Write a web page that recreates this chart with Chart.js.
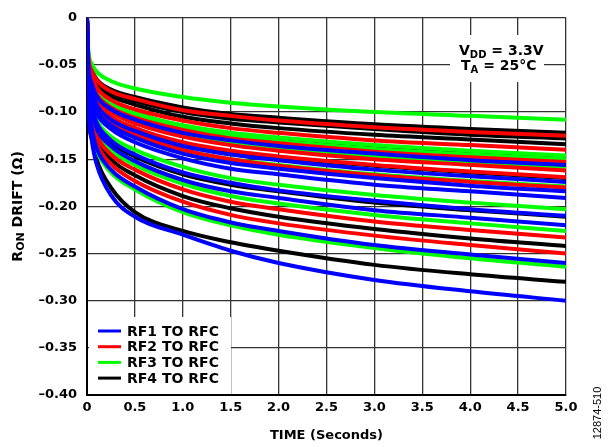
<!DOCTYPE html>
<html>
<head>
<meta charset="utf-8">
<script src="https://cdn.jsdelivr.net/npm/chart.js"></script>
<style>
  html, body { margin: 0; padding: 0; background: #fff; }
  #wrap { width: 609px; height: 447px; position: relative; }
</style>
</head>
<body>
<div id="wrap"><canvas id="chart" width="609" height="447"></canvas></div>
<script>
// time axis samples (seconds)
const timeS = [0, 0.01, 0.05, 0.1, 0.25, 0.5, 1, 1.5, 2, 3, 4, 5];

// Ron drift (ohm), one row per measured part
const rf1Drift = [
  [0, -0.044, -0.070, -0.083, -0.097, -0.108, -0.122, -0.130, -0.136, -0.144, -0.151, -0.156],
  [0, -0.049, -0.078, -0.092, -0.108, -0.120, -0.136, -0.145, -0.151, -0.161, -0.168, -0.174],
  [0, -0.052, -0.083, -0.098, -0.114, -0.127, -0.144, -0.154, -0.160, -0.170, -0.178, -0.184],
  [0, -0.053, -0.086, -0.101, -0.118, -0.132, -0.149, -0.160, -0.166, -0.177, -0.184, -0.191],
  [0, -0.059, -0.095, -0.111, -0.130, -0.145, -0.164, -0.175, -0.183, -0.194, -0.203, -0.210],
  [0, -0.062, -0.099, -0.117, -0.136, -0.152, -0.172, -0.184, -0.191, -0.204, -0.212, -0.220],
  [0, -0.073, -0.117, -0.138, -0.161, -0.179, -0.203, -0.217, -0.226, -0.241, -0.251, -0.260],
  [0, -0.080, -0.130, -0.155, -0.188, -0.211, -0.230, -0.247, -0.260, -0.278, -0.290, -0.300]
];
const rf2Drift = [
  [0, -0.035, -0.056, -0.066, -0.078, -0.086, -0.098, -0.104, -0.109, -0.116, -0.121, -0.125],
  [0, -0.039, -0.063, -0.074, -0.087, -0.097, -0.109, -0.117, -0.122, -0.130, -0.135, -0.140],
  [0, -0.043, -0.069, -0.081, -0.095, -0.106, -0.119, -0.128, -0.133, -0.142, -0.148, -0.153],
  [0, -0.045, -0.073, -0.086, -0.100, -0.112, -0.126, -0.135, -0.141, -0.150, -0.156, -0.162],
  [0, -0.047, -0.076, -0.090, -0.105, -0.117, -0.132, -0.141, -0.147, -0.156, -0.163, -0.169],
  [0, -0.050, -0.081, -0.095, -0.112, -0.124, -0.140, -0.150, -0.157, -0.167, -0.174, -0.180],
  [0, -0.065, -0.105, -0.124, -0.145, -0.161, -0.182, -0.195, -0.203, -0.216, -0.225, -0.233],
  [0, -0.070, -0.113, -0.133, -0.155, -0.173, -0.195, -0.209, -0.218, -0.231, -0.241, -0.250]
];
const rf3Drift = [
  [0, -0.030, -0.049, -0.057, -0.067, -0.075, -0.084, -0.090, -0.094, -0.100, -0.104, -0.108],
  [0, -0.041, -0.066, -0.077, -0.091, -0.101, -0.114, -0.122, -0.127, -0.135, -0.141, -0.146],
  [0, -0.042, -0.068, -0.080, -0.093, -0.104, -0.117, -0.125, -0.131, -0.139, -0.145, -0.150],
  [0, -0.045, -0.072, -0.084, -0.099, -0.110, -0.124, -0.133, -0.138, -0.147, -0.153, -0.159],
  [0, -0.050, -0.081, -0.095, -0.111, -0.124, -0.140, -0.150, -0.156, -0.166, -0.173, -0.179],
  [0, -0.057, -0.091, -0.108, -0.126, -0.140, -0.158, -0.170, -0.177, -0.188, -0.196, -0.203],
  [0, -0.063, -0.102, -0.120, -0.140, -0.156, -0.176, -0.189, -0.197, -0.209, -0.218, -0.226],
  [0, -0.074, -0.119, -0.140, -0.164, -0.182, -0.206, -0.220, -0.230, -0.244, -0.255, -0.264]
];
const rf4Drift = [
  [0, -0.034, -0.055, -0.065, -0.076, -0.084, -0.095, -0.102, -0.106, -0.113, -0.118, -0.122],
  [0, -0.036, -0.058, -0.068, -0.079, -0.088, -0.100, -0.107, -0.111, -0.118, -0.124, -0.128],
  [0, -0.038, -0.060, -0.071, -0.083, -0.092, -0.105, -0.112, -0.117, -0.124, -0.129, -0.134],
  [0, -0.041, -0.066, -0.078, -0.091, -0.101, -0.115, -0.123, -0.128, -0.136, -0.142, -0.147],
  [0, -0.048, -0.077, -0.090, -0.105, -0.117, -0.133, -0.142, -0.148, -0.157, -0.164, -0.170],
  [0, -0.061, -0.097, -0.113, -0.132, -0.147, -0.166, -0.177, -0.184, -0.196, -0.204, -0.211],
  [0, -0.068, -0.109, -0.128, -0.150, -0.167, -0.189, -0.202, -0.211, -0.224, -0.234, -0.242],
  [0, -0.080, -0.128, -0.150, -0.180, -0.206, -0.226, -0.238, -0.247, -0.262, -0.272, -0.280]
];

const seriesNames = ["RF1 TO RFC", "RF2 TO RFC", "RF3 TO RFC", "RF4 TO RFC"];
const seriesColors = ["#0000ff", "#ff0000", "#00ff00", "#000000"];

const xTicks = [0, 0.5, 1, 1.5, 2, 2.5, 3, 3.5, 4, 4.5, 5];
const xTickLabels = ["0", "0.5", "1.0", "1.5", "2.0", "2.5", "3.0", "3.5", "4.0", "4.5", "5.0"];
const yTicks = [0, -0.05, -0.10, -0.15, -0.20, -0.25, -0.30, -0.35, -0.40];
const yTickLabels = ["0", "–0.05", "–0.10", "–0.15", "–0.20", "–0.25", "–0.30", "–0.35", "–0.40"];

const FONT = "'DejaVu Sans', Arial, sans-serif";

// build datasets
const groups = [rf1Drift, rf2Drift, rf3Drift, rf4Drift];
const datasets = [];
groups.forEach((curves, g) => {
  curves.forEach(c => {
    datasets.push({
      label: seriesNames[g],
      data: timeS.map((t, i) => ({ x: t, y: c[i] })),
      borderColor: seriesColors[g],
      borderWidth: 4,
      pointRadius: 0,
      fill: false,
      cubicInterpolationMode: "monotone"
    });
  });
});

// extra drawing: legend box, conditions note, y title with subscript, figure code
const decor = {
  id: "decor",
  afterDraw(chart) {
    const ctx = chart.ctx;
    const a = chart.chartArea;
    ctx.save();

    // legend inside plot, bottom-left
    ctx.fillStyle = "#fff";
    ctx.fillRect(a.left + 2, 317, 142, a.bottom - 318);
    ctx.font = "bold 14px " + FONT;
    ctx.textBaseline = "middle";
    ctx.textAlign = "left";
    seriesNames.forEach((n, i) => {
      const y = 331 + i * 15.7;
      ctx.strokeStyle = seriesColors[i];
      ctx.lineWidth = 3;
      ctx.beginPath();
      ctx.moveTo(98, y);
      ctx.lineTo(121, y);
      ctx.stroke();
      ctx.fillStyle = "#000";
      ctx.fillText(n, 127, y + 1);
    });

    // conditions box
    ctx.fillStyle = "#fff";
    ctx.fillRect(450, 35, 94, 47);
    ctx.fillStyle = "#000";
    ctx.textBaseline = "alphabetic";
    function subText(parts, x, y) {
      let cx = x;
      parts.forEach(p => {
        ctx.font = (p.sub ? "bold 10px " : "bold 14px ") + FONT;
        ctx.fillText(p.t, cx, y + (p.sub ? 3 : 0));
        cx += ctx.measureText(p.t).width;
      });
    }
    subText([{ t: "V" }, { t: "DD", sub: true }, { t: " = 3.3V" }], 459, 55);
    subText([{ t: "T" }, { t: "A", sub: true }, { t: " = 25°C" }], 461, 70);

    // y axis title, rotated
    ctx.translate(18, (a.top + a.bottom) / 2);
    ctx.rotate(-Math.PI / 2);
    const parts = [{ t: "R" }, { t: "ON", sub: true }, { t: " DRIFT (Ω)" }];
    let w = 0;
    parts.forEach(p => {
      ctx.font = (p.sub ? "bold 11px " : "bold 14px ") + FONT;
      w += ctx.measureText(p.t).width;
    });
    let cx = -w / 2;
    ctx.textBaseline = "middle";
    parts.forEach(p => {
      ctx.font = (p.sub ? "bold 11px " : "bold 14px ") + FONT;
      ctx.fillText(p.t, cx, p.sub ? 3 : 0);
      cx += ctx.measureText(p.t).width;
    });
    ctx.restore();

    // figure code at right edge
    ctx.save();
    ctx.translate(598, 413);
    ctx.rotate(-Math.PI / 2);
    ctx.font = "11px 'Liberation Sans', Arial, sans-serif";
    ctx.textAlign = "center";
    ctx.textBaseline = "middle";
    ctx.fillStyle = "#000";
    ctx.fillText("12874-510", 0, 0);
    ctx.restore();
  }
};

new Chart(document.getElementById("chart"), {
  type: "line",
  data: { datasets: datasets },
  options: {
    responsive: false,
    animation: false,
    devicePixelRatio: 1,
    layout: { padding: { top: 10, right: 43, left: 0, bottom: 0 } },
    plugins: { legend: { display: false }, tooltip: { enabled: false } },
    scales: {
      x: {
        type: "linear",
        min: 0,
        max: 5,
        afterBuildTicks: s => { s.ticks = xTicks.map(v => ({ value: v })); },
        afterFit: s => { s.height = 52; },
        ticks: {
          color: "#000",
          font: { family: FONT, size: 13, weight: "bold" },
          padding: 5,
          maxRotation: 0,
          callback: (v, i) => xTickLabels[i]
        },
        grid: { color: "#333", lineWidth: 1.3, drawTicks: false },
        border: { color: "#000", width: 2 },
        title: {
          display: true,
          text: "TIME (Seconds)",
          color: "#000",
          font: { family: FONT, size: 13, weight: "bold" },
          padding: { top: 0, bottom: 4 }
        }
      },
      y: {
        type: "linear",
        min: -0.4,
        max: 0,
        afterBuildTicks: s => { s.ticks = yTicks.map(v => ({ value: v })); },
        afterFit: s => { s.width = 87; },
        ticks: {
          color: "#000",
          font: { family: FONT, size: 13, weight: "bold" },
          padding: 10,
          callback: (v, i) => yTickLabels[i]
        },
        grid: { color: "#333", lineWidth: 1.3, drawTicks: false },
        border: { color: "#000", width: 2 }
      }
    }
  },
  plugins: [decor]
});
</script>
</body>
</html>
